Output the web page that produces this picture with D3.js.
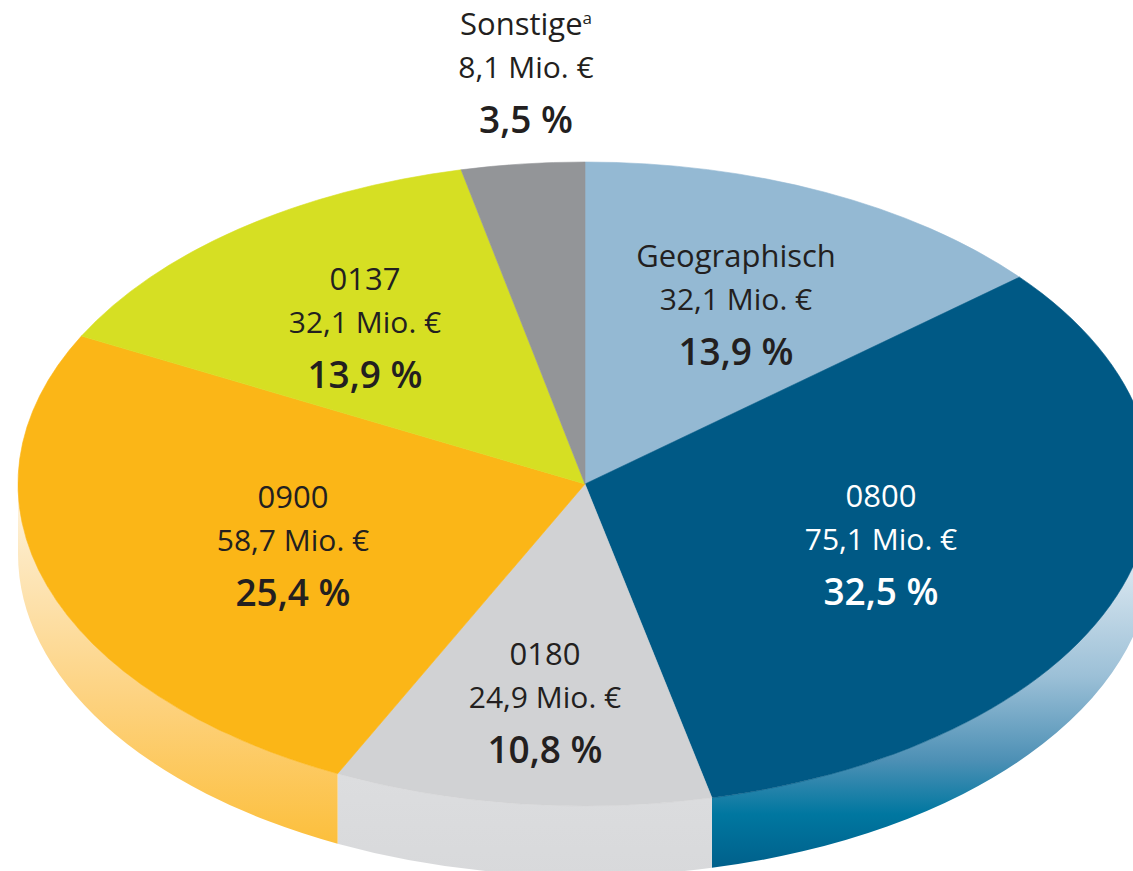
<!DOCTYPE html>
<html>
<head>
<meta charset="utf-8">
<script src="https://cdn.jsdelivr.net/npm/d3@7"></script>
<style>
  body { margin: 0; background: #fff; }
  text { font-family: 'Open Sans', sans-serif; }
</style>
</head>
<body>
<div id="chart"></div>
<script>
// slices, clockwise from 12 o'clock
const names = ["Geographisch", "0800", "0180", "0900", "0137", "Sonstige"];
const values = [32.1, 75.1, 24.9, 58.7, 32.1, 8.1];   // Mio. €
const shares = [13.9, 32.5, 10.8, 25.4, 13.9, 3.5];   // %
const footnotes = ["", "", "", "", "", "a"];

const topColors = ["#94b9d3", "#005985", "#d1d2d4", "#fbb617", "#d6df23", "#939598"];
const textColors = ["#231f20", "#ffffff", "#231f20", "#231f20", "#231f20", "#231f20"];

// label anchors (center x, first baseline)
const labelPos = [[736, 267], [881, 507], [545, 665], [293, 508], [365, 290], [526, 35]];

const width = 1133, height = 871;
const cx = 585, cy = 484, rx = 567, ry = 322, depth = 70;
const k = ry / rx;

const de = d3.formatLocale({decimal: ",", thousands: ".", grouping: [3], currency: ["", " €"]});
const f1 = de.format(".1f");

const svg = d3.select("#chart").append("svg")
    .attr("width", width)
    .attr("height", height);

const defs = svg.append("defs");
function addGradient(id, stops) {
  defs.append("linearGradient")
      .attr("id", id)
      .attr("x1", 0).attr("y1", 0).attr("x2", 0).attr("y2", 1)
    .selectAll("stop")
    .data(stops)
    .enter().append("stop")
      .attr("offset", d => d[0])
      .attr("stop-color", d => d[1]);
}
addGradient("side-0800", [[0, "#eef4f8"], [0.25, "#d2e2ed"], [0.5, "#9cc0d7"], [0.72, "#4d90b5"], [0.86, "#0077a0"], [1, "#00608b"]]);
addGradient("side-0180", [[0, "#dcdddf"], [1, "#d8d9db"]]);
addGradient("side-0900", [[0, "#fef5e4"], [0.2, "#fde8c0"], [0.6, "#fdd27f"], [1, "#fcbf3c"]]);
const sideFill = ["#94b9d3", "url(#side-0800)", "url(#side-0180)", "url(#side-0900)", "#d6df23", "#939598"];

const pie = d3.pie().sort(null).value(d => d);
const arcs = pie(values);

const arc = d3.arc().innerRadius(0).outerRadius(rx);

const g = svg.append("g")
    .attr("transform", `translate(${cx},${cy}) scale(1,${k})`);

// side wall, only the front half (pi/2 .. 3pi/2) shows
function sidePath(a0, a1) {
  const s = Math.max(a0, Math.PI / 2), e = Math.min(a1, 3 * Math.PI / 2);
  if (e <= s) return null;
  const h = depth / k;
  const p = d3.path();
  p.moveTo(rx * Math.sin(s), -rx * Math.cos(s));
  p.arc(0, 0, rx, s - Math.PI / 2, e - Math.PI / 2);
  p.lineTo(rx * Math.sin(e), -rx * Math.cos(e) + h);
  p.arc(0, h, rx, e - Math.PI / 2, s - Math.PI / 2, true);
  p.closePath();
  return p.toString();
}

g.append("g").selectAll("path")
  .data(arcs.filter(d => sidePath(d.startAngle, d.endAngle)))
  .enter().append("path")
    .attr("d", d => sidePath(d.startAngle, d.endAngle))
    .attr("fill", d => sideFill[d.index]);

g.append("g").selectAll("path")
  .data(arcs)
  .enter().append("path")
    .attr("d", arc)
    .attr("fill", d => topColors[d.index])
    .attr("stroke", d => topColors[d.index])
    .attr("stroke-width", 0.6)
    .attr("vector-effect", "non-scaling-stroke");

// labels
const labels = svg.append("g").selectAll("g")
  .data(names)
  .enter().append("g")
    .attr("transform", (d, i) => `translate(${labelPos[i][0]},${labelPos[i][1]})`)
    .attr("text-anchor", "middle")
    .attr("fill", (d, i) => textColors[i]);

const first = labels.append("text")
    .attr("font-size", 31);
first.append("tspan").text(d => d);
first.append("tspan")
    .attr("font-size", 17)
    .attr("dy", -11)
    .text((d, i) => footnotes[i]);

labels.append("text")
    .attr("y", 43)
    .attr("font-size", 30)
    .text((d, i) => f1(values[i]) + " Mio. €");

labels.append("text")
    .attr("y", 98)
    .attr("font-size", 37)
    .attr("font-weight", 600)
    .text((d, i) => f1(shares[i]) + " %");
</script>
</body>
</html>
